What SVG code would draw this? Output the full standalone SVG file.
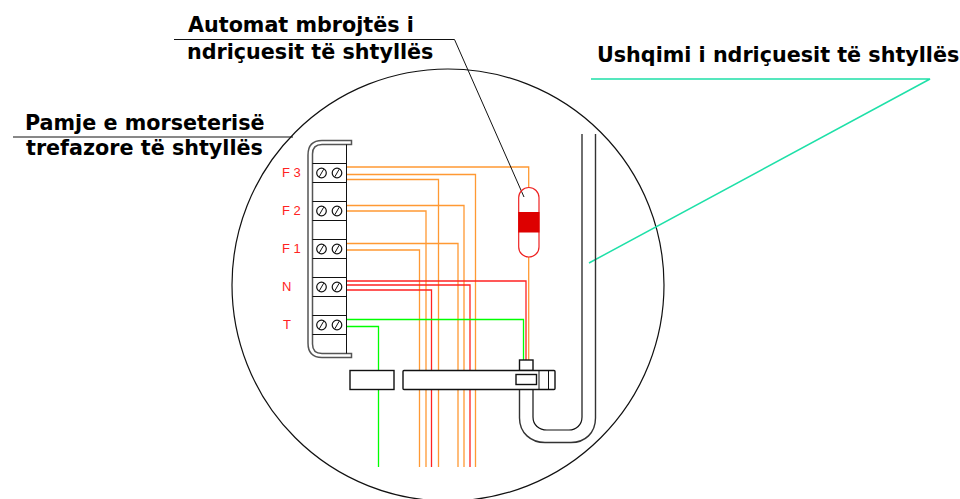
<svg xmlns="http://www.w3.org/2000/svg" width="960" height="499" viewBox="0 0 960 499">
<style>
.l{font-family:"DejaVu Sans",Verdana,sans-serif;font-weight:bold;font-size:20.7px;fill:#000}
.f{font-family:"Liberation Sans",Arial,sans-serif;font-size:13px;fill:#f22}
.k{fill:none;stroke:#111;stroke-width:1}
.b{fill:#fff;stroke:#111;stroke-width:1.4}
.o{fill:none;stroke:#f93;stroke-width:1.3}
.r{fill:none;stroke:#f22;stroke-width:1.3}
.g{fill:none;stroke:#0f0;stroke-width:1.3}
.t{fill:none;stroke:#1ee0a8;stroke-width:1.5}
.s{fill:#fff;stroke:#111;stroke-width:1.2}
</style>
<defs>
<g id="screw"><circle r="4.800" class="s"/><line x1="-2.200" y1="3.800" x2="2.200" y2="-3.800" class="k"/></g>
</defs>
<circle id="detail-circle" cx="448" cy="285" r="216" class="k" style="stroke-width:1.200"/>
<g id="connectors">
<path class="o" d="M347 167H528.700V187.500M528.700 257V360"/>
<path class="o" d="M347 174.500H475.500V467"/>
<path class="o" d="M347 179.500H438.500V467"/>
<path class="o" d="M347 205.500H464V467"/>
<path class="o" d="M347 211H426V467"/>
<path class="o" d="M347 243.500H458V467"/>
<path class="o" d="M347 250H419.500V467"/>
<path class="r" d="M347 281H526V360"/>
<path class="r" d="M347 285H470V467"/>
<path class="r" d="M347 290H431.500V467"/>
<path class="g" d="M347 319.500H523.500V360"/>
<path class="g" d="M347 326.500H378.500V467"/>
<path class="k" d="M174 39.500H454.500L524 197"/>
<path class="k" d="M13 137H293"/>
<path class="t" d="M591 79H930L589 263"/>
</g>
<g id="terminal-block">
<path d="M351.500 140.500H322Q308 140.500 308 155V343Q308 357.500 322 357.500H351.500V353.500H322Q312.500 353.500 312.500 344V154Q312.500 144.500 322 144.500H351.500Z" fill="#fff" stroke="#555" stroke-width="1.500"/>
<path class="k" d="M346.500 144.500V353.500"/>
<path class="k" d="M312.500 163.500H346.500M312.500 182.500H346.500M312.500 201.500H346.500M312.500 220.500H346.500M312.500 239.500H346.500M312.500 258.500H346.500M312.500 277.500H346.500M312.500 296.500H346.500M312.500 315.500H346.500M312.500 334.500H346.500"/>
<use href="#screw" x="321.500" y="173"/><use href="#screw" x="337" y="173"/>
<use href="#screw" x="321.500" y="211"/><use href="#screw" x="337" y="211"/>
<use href="#screw" x="321.500" y="249"/><use href="#screw" x="337" y="249"/>
<use href="#screw" x="321.500" y="287"/><use href="#screw" x="337" y="287"/>
<use href="#screw" x="321.500" y="325"/><use href="#screw" x="337" y="325"/>
</g>
<g id="labels-phases">
<text class="f" x="282" y="177">F 3</text>
<text class="f" x="282" y="215">F 2</text>
<text class="f" x="282" y="253">F 1</text>
<text class="f" x="282" y="291">N</text>
<text class="f" x="283" y="329">T</text>
</g>
<g id="fuse">
<rect x="518.700" y="187.500" width="20.300" height="69.500" rx="10.100" fill="none" stroke="#e22" stroke-width="1.200"/>
<rect x="518.200" y="212" width="21.300" height="20.500" fill="#d00"/>
</g>
<g id="pole-pipe">
<path class="k" style="stroke-width:1.400;stroke:#333" d="M519.500 389V418C519.500 433 531 442.500 545 442.500H571C585 442.500 595.500 433 595.500 418V134"/>
<path class="k" style="stroke-width:1.200" d="M533 389V417C533 425 539 430 547 430H569C576 430 582 425 582 417V134"/>
</g>
<g id="bar-left"><rect x="350" y="370.500" width="44" height="19" class="b"/></g>
<g id="bar-right">
<rect x="519.500" y="360" width="13.500" height="10.500" class="b"/>
<rect x="403" y="370.500" width="152" height="19" rx="1" class="b"/>
<rect x="516" y="374.500" width="20.500" height="10" class="b"/>
<path class="k" d="M539 370.500V389.500M548.500 370.500V389.500"/>
</g>
<g id="label-automat">
<text class="l" x="188" y="31.500">Automat mbrojtës i</text>
<text class="l" x="187" y="58.500">ndriçuesit të shtyllës</text>
</g>
<g id="label-pamje">
<text class="l" x="25" y="130">Pamje e morseterisë</text>
<text class="l" x="26" y="155">trefazore të shtyllës</text>
</g>
<g id="label-ushqimi"><text class="l" x="597" y="61.500">Ushqimi i ndriçuesit të shtyllës</text></g>
</svg>
